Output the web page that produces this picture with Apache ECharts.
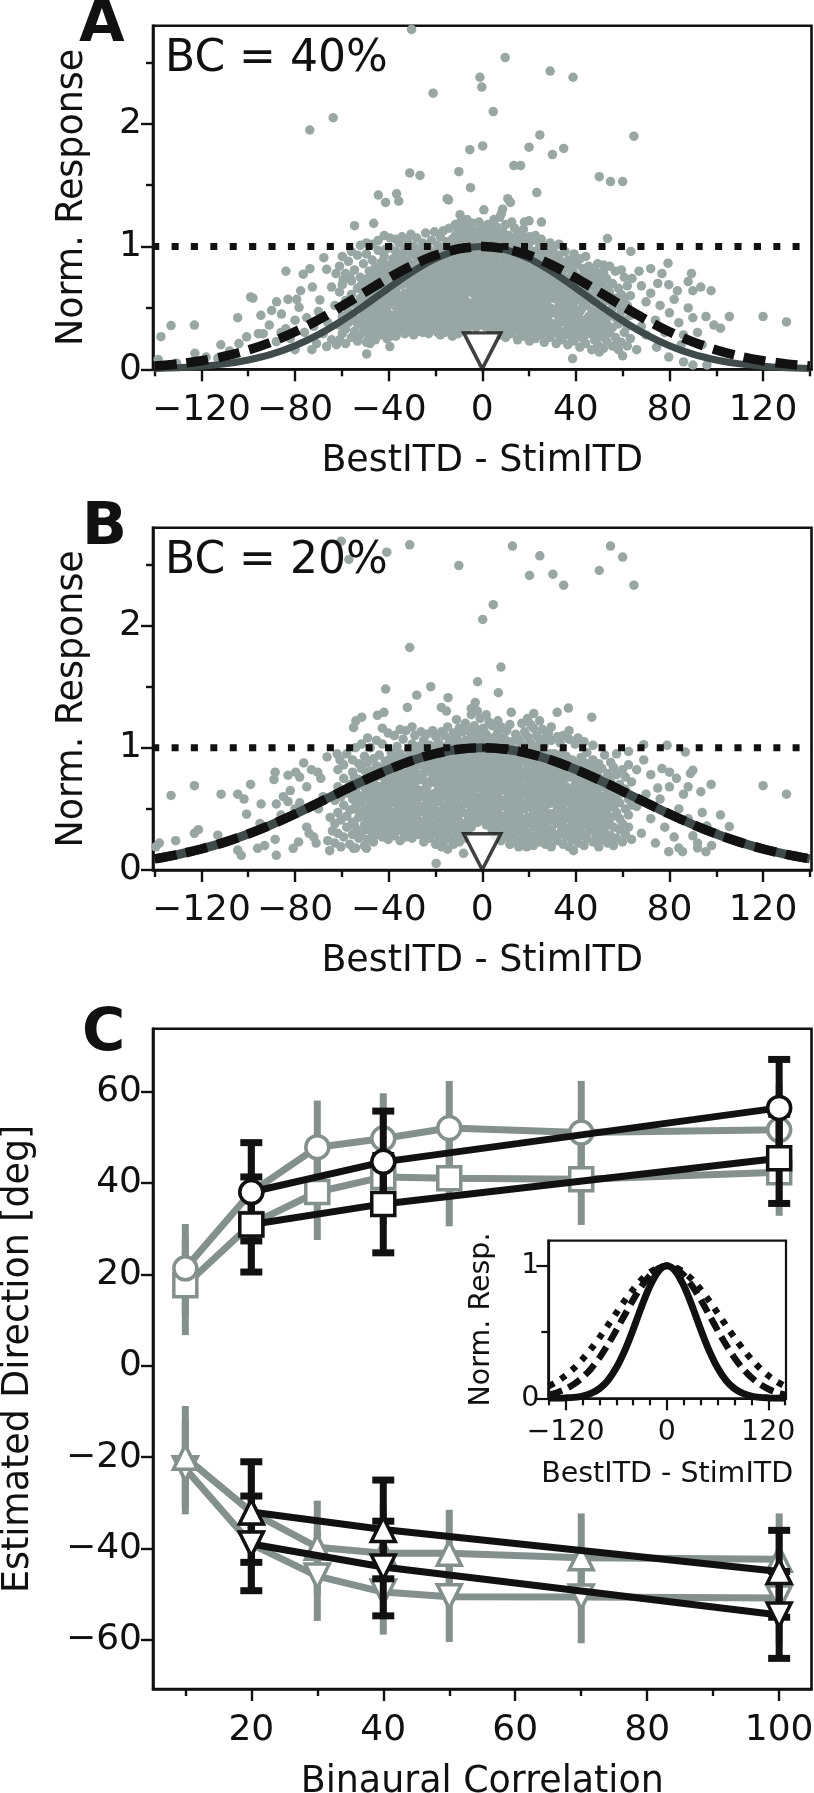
<!DOCTYPE html>
<html><head><meta charset="utf-8">
<style>html,body{margin:0;padding:0;background:#fff}#c{width:814px;height:1793px}</style>
<script src="https://cdn.jsdelivr.net/npm/echarts@6/dist/echarts.min.js"></script></head>
<body><div id="c"></div>
<script>
// ---------- data ----------
const itdMajor=[-120,-80,-40,0,40,80,120];
const itdMinor=[-140,-100,-60,-20,20,60,100,140];
const respMajor=[0,1,2];
const respMinor=[0.5,1.5,2.5];
const curveX=[-140,-130,-120,-110,-100,-90,-80,-70,-60,-50,-40,-30,-20,-10,0,10,20,30,40,50,60,70,80,90,100,110,120,130,140];
const solidA=[.006,.013,.024,.044,.076,.123,.192,.282,.395,.524,.662,.793,.902,.974,1,.974,.902,.793,.662,.524,.395,.282,.192,.123,.076,.044,.024,.013,.006];
const dashedA=[.027,.044,.07,.107,.157,.223,.306,.404,.514,.63,.744,.847,.929,.982,1,.982,.929,.847,.744,.63,.514,.404,.306,.223,.157,.107,.07,.044,.027];
const solidB=[.091,.127,.172,.228,.295,.372,.458,.55,.644,.737,.822,.896,.952,.988,1,.988,.952,.896,.822,.737,.644,.55,.458,.372,.295,.228,.172,.127,.091];
const dashedB=solidB;
const insetSolid=[0,.001,.003,.007,.017,.037,.073,.135,.23,.36,.52,.693,.849,.96,1,.96,.849,.693,.52,.36,.23,.135,.073,.037,.017,.007,.003,.001,0];
const insetDashed=dashedA;
const insetDotted=solidB;
const unityX=[-141,141];
const unityY=[1,1];
const stimMark=[[0,.15]];

const outliersA=[[-30.2,2.77],[9.8,2.54],[-1,2.38],[-.2,2.3],[29,2.43],[38.8,2.38],[-21,2.25],[4.7,2.1],[-63.7,2.05],[-73.7,1.95],[64.8,1.9],[24.6,1.91],[20,1.81],[34.8,1.8],[30,1.75],[.2,1.82],[-5.3,1.79],[13.5,1.66],[16.4,1.66],[-10,1.61],[-31,1.6],[-26.6,1.58],[50,1.57],[54.8,1.53],[60,1.53],[-5,1.48],[23.3,1.44],[-44.4,1.42],[-36.6,1.43],[-41.3,1.36],[-35.7,1.37],[-15,1.39],[-14.4,1.38],[10.9,1.39],[12,1.36],[.7,1.3],[8.7,1.305],[8.2,1.27],[-9.5,1.26],[-54.6,1.17],[-46.4,1.19],[25.3,1.2],[20,1.21],[18,1.2],[53.5,1.066],[63.5,.96],[79.4,.865],[76.8,.78],[89.4,.78],[88,.715],[93.4,.67],[97.8,.64],[90,.64],[83.4,.64],[79.7,.69],[105.6,.43],[120,.43],[130,.386],[95.6,.43],[99,.36],[101.8,.335],[-133,.356],[-123,.36],[-137.3,.266],[-141,.8],[-104.5,.42],[-99,.59],[-98,.58],[-94.6,.44],[-90,.48],[-87.9,.55],[-85.8,.45],[-83,.57],[-79.3,.57],[-78.3,.505],[-77.6,.64],[-72.6,.67],[-69.4,.565],[-64.4,.67],[-76.5,.775],[-73.6,.82],[-83.9,.8],[-66.5,.815],[-67.7,.91],[-62.5,.78],[-59.4,.73],[-56.5,.75],[-111.7,.2],[-122.8,.13],[-138.5,.08],[-130.6,.05],[-100.7,.265],[-104,.21],[-95.7,.29],[-93.6,.29],[-91,.36],[-88,.225],[-82,.25],[-80,.16],[-72.8,.16],[-70.8,.21],[-66.5,.185],[-64.4,.24],[-62.3,.2],[-49.4,.125],[-48,.21],[-39.5,.185],[-39.2,.27],[38.6,.087],[79.7,.1],[86,.06],[90,.035],[96,.035],[50,.14],[60,.11],[66,.16],[74.5,.18],[57,.185],[-113,.09],[-75,.42],[-72,.35],[-68,.29],[-76,.3],[-84,.33],[-70,.47],[-66,.38],[-63,.52],[-80,.4],[-86,.3],[-108,.15],[-118,.1],[65,.45],[68,.35],[70,.55],[72,.62],[74,.4],[76,.52],[78,.3],[80,.46],[82,.57],[84,.38],[86,.28],[88,.5],[90,.42],[92,.3],[94,.2],[85,.2],[70,.28],[75,.7],[68,.68],[64,.74],[72,.82],[67,.8]];
const cloudA=[
[-61,.24,.36,.51,.63,.84],[-59.8,.29,.43,.69,.92],[-58.4,.21,.33,.56,.78],[-57.2,.38,.47,.88],[-55.9,.26,.61,.72,.96],
[-54.6,.31,.42,.53,.81],[-53.3,.23,.37,.66,.93],[-52.1,.28,.49,.58,.75,1.01],[-50.8,.34,.44,.63,.86],[-49.5,.22,.39,.52,.7,.94,1.03],
[-48.3,.27,.46,.59,.8],[-47,.35,.41,.55,.67,.89,1.02],[-45.7,.24,.3,.5,.73,.83],[-44.5,.38,.45,.61,.77,.97,1.05],[-43.2,.28,.34,.54,.66,.87],
[-41.9,.42,.49,.58,.71,.92,1.09],[-40.7,.25,.36,.47,.63,.79,.85],[-39.4,.31,.53,.68,.75,.99,1.07],[-38.1,.4,.44,.6,.82,.9],[-36.9,.27,.35,.51,.65,.72,.96,1.06],
[-35.6,.32,.46,.57,.78,.86,1.03],[-34.3,.39,.54,.69,.93,1.08],[-33.1,.29,.43,.62,.74,.83,.98],[-31.8,.36,.48,.56,.7,.88,1.05],[-30.5,.33,.41,.59,.65,.8,.94,1.1],
[-29.3,.28,.45,.52,.73,.85,1],[-28,.37,.5,.61,.76,.91,1.07],[-26.7,.31,.42,.55,.67,.82,.97],[-25.5,.3,.39,.47,.63,.72,.87,1.03],[-24.2,.35,.53,.6,.78,.93,1.11],
[-22.9,.29,.44,.57,.69,.84,.98],[-21.7,.33,.41,.51,.66,.75,.89,1.05],[-20.4,.38,.48,.62,.8,.95,1.12],[-19.1,.3,.43,.56,.71,.86,1.01],[-17.9,.28,.36,.52,.64,.77,.9,1.08],
[-16.6,.34,.47,.59,.73,.82,.96,1.13],[-15.3,.4,.5,.67,.79,.92,1.04],[-14.1,.31,.44,.55,.7,.85,.99,1.15],[-12.8,.27,.37,.53,.63,.76,.88,1.06],[-11.5,.35,.46,.6,.74,.83,.94,1.09,1.18],
[-10.3,.29,.42,.57,.68,.81,.97,1.13],[-9,.33,.51,.65,.78,.9,1.02,1.21],[-7.7,.38,.47,.6,.72,.86,.99,1.1,1.17],[-6.5,.31,.44,.55,.69,.83,.93,1.06,1.22],[-5.2,.36,.5,.63,.76,.89,1.03,1.14],
[-3.9,.41,.54,.67,.8,.91,1.08,1.19],[-2.7,.34,.46,.59,.73,.85,.97,1.12],[-1.4,.39,.52,.64,.77,.94,1.05,1.2],[-.1,.43,.56,.7,.82,.9,1.01,1.16],[1.2,.35,.48,.61,.74,.87,.98,1.11],
[2.4,.4,.53,.66,.79,.93,1.07,1.18],[3.7,.32,.45,.58,.71,.84,.96,1.03,1.14],[5,.37,.49,.62,.76,.88,1.09,1.22],[6.2,.34,.51,.65,.8,.92,1.01,1.16],[7.5,.28,.43,.56,.69,.83,.95,1.06,1.24],
[8.8,.31,.47,.6,.73,.86,.99,1.12],[10,.26,.39,.52,.66,.78,.91,1.03,1.18],[11.3,.33,.45,.57,.7,.84,.97,1.09],[12.6,.29,.41,.55,.67,.81,.94,1.05,1.2],[13.8,.36,.49,.62,.75,.88,1.01,1.15],
[15.1,.24,.34,.46,.59,.72,.85,.98,1.1],[16.4,.3,.42,.53,.68,.79,.92,1.04],[17.6,.27,.38,.5,.63,.76,.87,1.07,1.14],[18.9,.33,.44,.57,.7,.83,.96,1.02],[20.2,.23,.35,.48,.61,.74,.9,1.08],
[21.4,.29,.41,.54,.66,.8,.93,1.05],[22.7,.25,.37,.51,.64,.77,.88,1.09],[24,.32,.45,.59,.71,.84,.97],[25.2,.28,.4,.52,.68,.79,.91,1.06],[26.5,.22,.35,.47,.62,.75,.86,1],
[27.8,.3,.43,.56,.69,.82,.95],[29,.26,.38,.5,.65,.77,.88,1.03],[30.3,.33,.46,.58,.72,.84,.98],[31.6,.21,.36,.49,.63,.74,.9],[32.8,.28,.41,.54,.67,.8,.93,1.02],
[34.1,.24,.39,.52,.6,.76,.87],[35.4,.31,.44,.57,.7,.83,.96],[36.6,.2,.35,.48,.62,.74,.89],[37.9,.27,.42,.55,.68,.81],[39.2,.23,.37,.5,.64,.78,.94],
[40.4,.3,.45,.58,.71,.85],[41.7,.18,.33,.47,.61,.75,.9],[43,.25,.4,.54,.66,.82],[44.2,.21,.36,.52,.63,.77,.92],[45.5,.29,.43,.57,.7,.84],
[46.8,.16,.34,.48,.6,.76],[48,.24,.39,.55,.67,.81],[49.3,.2,.31,.46,.62,.72,.86],[50.6,.27,.41,.53,.69],[51.8,.17,.35,.49,.6,.79,.85],
[53.1,.23,.38,.56,.74],[54.4,.3,.44,.63,.84],[55.6,.19,.34,.5,.7],[56.9,.26,.42,.58,.8],[58.2,.16,.37,.53,.66],
[59.4,.22,.47,.61,.81],[60.7,.3,.4,.57,.75],[62,.19,.35,.52,.68],[63.3,.25,.44,.6]
];
const cloudA2=[
[-43.9,.39,.52,.69,.81],[-41.2,.33,.44,.55,.76,.98],[-38.7,.36,.57,.71,.86],[-36.2,.43,.6,.69,.81,.93],[-33.7,.35,.48,.58,.78,.88],[-31.2,.42,.52,.63,.76,.84,.97],
[-28.7,.34,.41,.56,.69,.8,.95],[-26.1,.36,.49,.61,.72,.78,.92],[-23.6,.31,.43,.5,.66,.74,.83,.97],[-21.1,.37,.47,.58,.62,.71,.82,.94],[-18.5,.33,.39,.47,.6,.68,.8,.95],[-16,.3,.42,.53,.63,.77,.87,1],
[-13.5,.34,.41,.49,.58,.67,.73,.8,.93,1.03],[-10.9,.36,.45,.52,.63,.72,.87,.92,1.05],[-8.4,.39,.44,.56,.61,.7,.84,.96,1.07],[-5.9,.4,.47,.53,.66,.73,.79,.95,1.08],[-3.3,.37,.43,.5,.61,.7,.76,.86,.99,1.05],[-.8,.36,.47,.6,.67,.74,.87,.97,1.09],
[1.8,.42,.51,.57,.68,.78,.84,.92,1.04],[4.3,.41,.52,.64,.69,.8,.91,1],[6.9,.39,.46,.58,.72,.78,.86,.97,1.1],[9.4,.36,.43,.54,.63,.7,.8,.93,1.06],[12,.37,.49,.6,.73,.77,.9,.99],[14.5,.33,.4,.52,.64,.7,.82,.94,1.07],
[17,.35,.44,.58,.66,.73,.84,.96],[19.6,.29,.39,.5,.63,.76,.8,.92,1],[22.1,.31,.43,.47,.57,.7,.84,.96],[24.6,.36,.49,.55,.65,.74,.88,1.01],[27.2,.33,.41,.52,.59,.72,.8,.93],[29.7,.3,.37,.46,.6,.69,.82,.91],
[32.2,.34,.45,.57,.71,.77,.86],[34.8,.28,.42,.48,.65,.73,.81],[37.3,.31,.38,.53,.6,.72,.84],[39.8,.33,.44,.56,.68,.75,.88],[42.4,.27,.39,.49,.6,.73],[44.9,.32,.41,.55,.67,.79],
[-46.4,.32,.43,.62,.78],[-48.9,.3,.5,.64,.74],[-51.5,.36,.41,.55,.69],[47.4,.3,.44,.58,.7],[50,.34,.49,.6,.78],[52.5,.28,.43,.66,.73]
];
const outliersB=[[-60.3,2.69],[-57,2.54],[-40.8,2.6],[-31,2.66],[-10,2.49],[12.9,2.65],[24.6,2.57],[20.2,2.41],[30.2,2.42],[34.8,2.33],[50,2.45],[54.8,2.65],[60,2.56],[64.8,2.33],[4.7,2.17],[.2,2.05],[-31,1.82],[8,1.66],[-2,1.54],[6.9,1.45],[-41.3,1.48],[-22,1.5],[-28,1.43],[-14.6,1.41],[-32,1.33],[-42,1.29],[-44.8,1.265],[-17.5,1.33],[-15.3,1.3],[-3,1.37],[-4.7,1.32],[36.8,1.325],[32,1.29],[46.8,1.25],[12.4,1.29],[22,1.28],[-54,1.22],[-55,1.165],[-51.5,1.25],[-123,.69],[-133,.61],[-111.6,.62],[-104.5,.62],[-101.8,.58],[-99,.7],[-100.7,.457],[-94.5,.54],[-88.5,.8],[-89,.74],[-83,.775],[-79.7,.8],[-76.3,.876],[-78,.76],[-73,.82],[-70.3,.8],[-66.3,.925],[-62,.95],[-60.8,.9],[-75,.68],[-88,.54],[-85,.6],[-83,.56],[-131,.24],[-138,.22],[-139.5,.19],[-113,.285],[-123,.3],[-121.3,.33],[-104.5,.163],[-103,.12],[-96,.177],[-93,.2],[-88.5,.25],[-88,.12],[-80.8,.177],[-78.5,.23],[-65.2,.158],[-55,.177],[-49.5,.177],[-19.7,.054],[-8,.136],[120,.69],[130,.62],[97.8,.7],[93.4,.64],[86.8,.965],[79,1.02],[69,1.025],[101.8,.45],[105.6,.355],[95.6,.15],[85.6,.15],[79.7,.15],[39,.158],[19,.19],[89,.79],[90,.816],[76.8,.83],[80,.8],[-141,1.06],[-95,.38],[-86,.45],[-80,.5],[-75,.35],[-72,.27],[-70,.5],[-68,.6],[-66,.24],[-64,.32],[-74,.3],[-71,.22],[-65,.43],[-69,.75],[-78,.55],[-82,.65],[66,.52],[68,.3],[70,.62],[72,.42],[74,.22],[76,.58],[78,.35],[80,.68],[82,.27],[84,.5],[86,.62],[88,.42],[90,.28],[92,.22],[94,.47],[96,.36],[98,.2],[100,.3],[83,.75],[72,.78],[75,.67],[66,.82],[69,.9],[88,.68],[84,.18],[92,.18]];
const cloudB=[
[-63,.22,.38,.57],[-61.7,.3,.47,.68,.82],[-60.4,.19,.41,.6],[-59.2,.27,.53,.75,.86],[-57.9,.35,.44,.63,.95],
[-56.6,.21,.49,.7],[-55.4,.29,.39,.58,.8,.9],[-54.1,.18,.34,.52,.66,1],[-52.8,.26,.43,.61,.74,.87],[-51.6,.31,.47,.56,.83,1.03],
[-50.3,.2,.37,.5,.68,.93],[-49,.25,.41,.59,.76,.88,1.08],[-47.8,.33,.45,.54,.64,.81,1],[-46.5,.23,.38,.52,.72,.91],[-45.2,.29,.42,.6,.67,.85,1.06],
[-44,.35,.48,.57,.77,.94],[-42.7,.27,.4,.53,.65,.83,1.03,1.16],[-41.4,.31,.44,.61,.74,.89],[-40.2,.25,.37,.5,.69,.8,1.12],[-38.9,.33,.46,.58,.72,.86,.96],
[-37.6,.28,.41,.55,.63,.78,.92,1.1],[-36.4,.36,.49,.6,.75,.84,1.01],[-35.1,.24,.39,.52,.67,.81,.95,1.15],[-33.8,.31,.44,.57,.7,.87,1.07],[-32.6,.27,.42,.54,.64,.79,.91,1.14],
[-31.3,.34,.47,.59,.73,.85,.98],[-30,.26,.38,.51,.66,.78,.9,1.03,1.17],[-28.8,.32,.45,.56,.69,.83,.94,1.1],[-27.5,.29,.41,.53,.62,.76,.88,1.01],[-26.2,.35,.48,.6,.74,.86,.97,1.13],
[-25,.23,.37,.5,.65,.79,.91,1.06],[-23.7,.3,.43,.55,.68,.82,.95,1.11],[-22.4,.26,.4,.52,.71,.84,.93,1.02],[-21.2,.33,.46,.58,.75,.88,.99,1.14],[-19.9,.21,.36,.49,.63,.77,.9,1.09],
[-18.6,.27,.42,.56,.67,.8,.92,1.04],[-17.4,.19,.34,.47,.61,.73,.86,.98,1.13],[-16.1,.24,.41,.53,.69,.82,.94,1.1],[-14.8,.17,.3,.45,.59,.75,.87,1.02,1.17],[-13.6,.25,.38,.5,.64,.78,.91,1.06],
[-12.3,.21,.35,.48,.62,.72,.85,.97,1.12],[-11,.29,.43,.57,.7,.83,.95,1.08,1.23],[-9.8,.23,.4,.52,.66,.79,.92,1.03,1.16],[-8.5,.33,.47,.6,.74,.88,.99,1.13],[-7.2,.26,.37,.54,.68,.81,.93,1.06,1.2],
[-5.9,.41,.56,.63,.77,.9,1.01,1.14],[-4.7,.35,.49,.65,.8,.86,.97,1.09,1.27],[-3.4,.44,.58,.71,.84,.95,1.04,1.18],[-2.1,.39,.52,.67,.78,.91,1.02,1.13,1.3],[-.9,.46,.6,.74,.87,.99,1.08,1.24],
[.4,.42,.55,.69,.82,.93,1.05,1.16],[1.7,.37,.5,.63,.76,.89,1,1.11,1.27],[2.9,.45,.58,.72,.85,.97,1.07,1.21],[4.2,.33,.47,.6,.73,.86,.94,1.03,1.18],[5.5,.28,.41,.54,.68,.8,.92,1.09],
[6.7,.36,.49,.62,.75,.88,1,1.13,1.22],[8,.24,.39,.53,.66,.79,.9,1.04,1.17],[9.3,.31,.44,.57,.7,.83,.96,1.08],[10.5,.27,.37,.51,.64,.77,.91,1.02,1.14],[11.8,.21,.34,.48,.61,.74,.87,.99,1.19],
[13.1,.29,.42,.56,.69,.82,.94,1.05],[14.3,.24,.38,.52,.65,.78,.9,1.11],[15.6,.19,.33,.46,.6,.73,.86,.98,1.07],[16.9,.27,.4,.54,.67,.8,.93,1.03,1.2],[18.1,.22,.36,.5,.63,.76,.89,1.13],
[19.4,.3,.43,.57,.7,.83,.96,1.09,1.24],[20.7,.25,.39,.52,.66,.79,.92,1.04,1.19],[21.9,.2,.35,.48,.61,.74,.87,1.01,1.16],[23.2,.28,.42,.55,.68,.81,.94,1.1],[24.5,.23,.37,.51,.64,.77,.9,1.07,1.22],
[25.7,.31,.44,.58,.71,.84,.97,1.15],[27,.21,.34,.47,.6,.73,.86,1.08],[28.3,.26,.4,.54,.67,.8,.92,1.12],[29.5,.19,.33,.46,.62,.75,.88,1.06,1.17],[30.8,.29,.43,.56,.69,.82,.95],
[32.1,.24,.38,.5,.64,.77,.9,1.09],[33.3,.3,.41,.53,.66,.79,.87,1.04],[34.6,.21,.36,.49,.6,.74,.85,1.1],[35.9,.27,.42,.55,.68,.81,.93],[37.1,.19,.34,.47,.61,.76,.88,1.07,1.14],
[38.4,.25,.39,.52,.65,.78,.9],[39.7,.31,.44,.57,.7,.83,1.03],[40.9,.22,.35,.48,.63,.75,.86,1.08],[42.2,.28,.41,.54,.67,.8,.92],[43.5,.2,.37,.5,.6,.73,.88,1.05],
[44.7,.26,.4,.55,.69,.83,.96],[46,.33,.46,.58,.72,.85],[47.3,.23,.38,.52,.64,.77,.9,1.02],[48.5,.29,.43,.56,.68,.81],[49.8,.19,.35,.49,.61,.75,.87],
[51.1,.25,.41,.54,.7,.83],[52.3,.31,.45,.6,.74,.94],[53.6,.22,.37,.5,.65,.79],[54.9,.28,.43,.57,.72,.88],[56.1,.2,.35,.52,.67,.84],
[57.4,.26,.47,.6,.78,.95],[58.7,.33,.42,.55,.7],[59.9,.23,.38,.63,.82],[61.2,.29,.5,.66,.76],[62.5,.35,.45,.58,.86,.97],[63.8,.25,.53,.72]
];
const cloudB2=[
[-49.6,.33,.47,.63,.8],[-46.9,.3,.46,.58,.7,.79],[-44.3,.41,.52,.68,.84],[-41.8,.34,.5,.58,.7,.82],[-39.3,.3,.42,.55,.64,.77,.91],[-36.8,.32,.44,.56,.69,.8,.9],
[-34.2,.34,.47,.6,.74,.88],[-31.7,.3,.4,.52,.67,.77,.92],[-29.2,.35,.44,.6,.71,.81,.96],[-26.6,.29,.38,.52,.65,.78,.91],[-24.1,.34,.46,.6,.72,.86,1],[-21.6,.3,.41,.54,.62,.8,.93],
[-19,.32,.45,.58,.7,.84,.96,1.03],[-16.5,.29,.36,.5,.62,.76,.88,1],[-14,.34,.42,.55,.68,.8,.93,1.05],[-11.5,.39,.52,.66,.77,.89,1.01],[-9,.28,.36,.48,.62,.75,.86,.97],[-6.5,.31,.46,.59,.71,.83,.95,1.05],
[-4,.39,.53,.61,.74,.88,.99,1.08],[-1.4,.43,.57,.71,.83,.96,1.05],[1.1,.4,.53,.66,.79,.92,1.03],[3.6,.39,.52,.65,.78,.91,1.01],[6.1,.32,.44,.57,.7,.83,.97,1.06],[8.7,.29,.42,.55,.71,.84,.93],
[11.2,.31,.4,.54,.67,.8,.92,1.05],[13.7,.33,.46,.59,.72,.85,.97],[16.2,.23,.37,.5,.63,.75,.88,1],[18.8,.3,.42,.55,.68,.8,.93],[21.3,.27,.41,.5,.64,.76,.89,.98],[23.8,.34,.46,.59,.72,.85,1.01],
[26.4,.27,.38,.52,.65,.78,.9,1.02],[28.9,.31,.44,.57,.7,.83,.95],[31.4,.26,.4,.54,.61,.75,.89],[34,.33,.46,.58,.71,.83,.95],[36.5,.3,.43,.56,.66,.8,.9],[39,.27,.4,.54,.62,.76,.87],
[41.6,.33,.46,.6,.72,.84],[44.1,.29,.43,.52,.65,.79],[46.6,.36,.5,.62,.75,.88],[49.2,.27,.4,.54,.66,.78],[51.7,.33,.46,.58,.68],[54.2,.25,.4,.53,.62,.76],[-52.2,.29,.45,.59,.71],[-54.7,.37,.5,.63,.76]
];

const corrMajor=[20,40,60,80,100];
const corrMinor=[10,30,50,70,90];
const dirMajor=[-60,-40,-20,0,20,40,60];
const grayX=[10,20,30,40,50,70,100];
const blackX=[20,40,100];
const grayCircle=[21.3,38,47.8,49.7,52,51,51.6];
const grayCircleLo=[11,28,38,40,42,41,41.6];
const grayCircleHi=[31,48,58,59.6,62.3,62.3,61.6];
const graySquare=[17.6,31,38,41.3,41,40.8,42.3];
const graySquareLo=[6.7,20.3,27.5,31,30.5,30.8,32.8];
const graySquareHi=[28,41,48.5,51.5,51.5,51,52];
const grayUp=[-20,-32,-39.7,-41,-41,-42,-42.3];
const grayUpLo=[-31,-43,-50,-51,-51,-52,-52.3];
const grayUpHi=[-8.8,-21,-29.5,-30.5,-31.5,-32.3,-32.3];
const grayDown=[-22.5,-39,-46,-49.5,-50.5,-50.6,-50.8];
const grayDownLo=[-32.5,-49,-55.8,-58.8,-60.4,-60.7,-60.8];
const grayDownHi=[-12,-28.5,-36,-39.5,-40.5,-40.6,-40.8];
const blackCircle=[38,44.6,56.4];
const blackCircleLo=[27.3,34,46];
const blackCircleHi=[48.8,55.7,67];
const blackSquare=[30.9,35.4,45.4];
const blackSquareLo=[20.5,24.7,35.5];
const blackSquareHi=[41.3,46,55];
const blackUp=[-32,-35.8,-45];
const blackUpLo=[-43,-46.6,-55];
const blackUpHi=[-21,-25,-36];
const blackDown=[-39,-44,-54.5];
const blackDownLo=[-49.2,-54.7,-64];
const blackDownHi=[-28.5,-34,-45];

const insetMajor=[-120,0,120];
const insetMinor=[-140,-100,-80,-60,-40,-20,20,40,60,80,100,140];
const insetYMajor=[0,1];
const insetYMinor=[0.5];

// ---------- styles and helpers ----------
const FONT='DejaVu Sans', INK='#111', DOT='#98a6a4', GRAY='#84908e', DARK='#3f4a4a';
const fmt=v=>String(v).replace('-','\u2212');
const zipXY=(xs,ys)=>xs.map((x,i)=>[x,ys[i]]);
const cloudPts=(cloud,extra)=>extra.concat(cloud.flatMap(c=>c.slice(1).map(y=>[c[0],y])));
const xAxes=[],yAxes=[],grids=[],series=[];
function addPanel(o){
  const idx=grids.length;
  grids.push({show:true,left:o.box[0],top:o.box[1],width:o.box[2],height:o.box[3],borderColor:INK,borderWidth:o.bw,backgroundColor:'#fff',containLabel:false,outerBoundsMode:'none'});
  const line={show:true,onZero:false,lineStyle:{color:INK,width:o.bw}};
  xAxes.push({gridIndex:idx,type:'value',min:o.x[0],max:o.x[1],position:'bottom',axisLine:line,splitLine:{show:false},
    axisTick:{show:true,length:o.maj,customValues:o.xMaj,lineStyle:{color:INK,width:o.tw}},
    axisLabel:{show:true,customValues:o.xMaj,formatter:fmt,color:INK,fontFamily:FONT,fontSize:o.fs,margin:o.xMargin,hideOverlap:false,showMinLabel:true,showMaxLabel:true},
    name:o.xName,nameLocation:'middle',nameGap:o.xGap,nameTextStyle:{color:INK,fontFamily:FONT,fontSize:o.nfs}});
  xAxes.push({gridIndex:idx,type:'value',min:o.x[0],max:o.x[1],position:'bottom',axisLine:{show:false,onZero:false},splitLine:{show:false},
    axisTick:{show:true,length:o.min,customValues:o.xMin,lineStyle:{color:INK,width:o.tw}},axisLabel:{show:false}});
  yAxes.push({gridIndex:idx,type:'value',min:o.y[0],max:o.y[1],position:'left',axisLine:line,splitLine:{show:false},
    axisTick:{show:true,length:o.maj,customValues:o.yMaj,lineStyle:{color:INK,width:o.tw}},
    axisLabel:{show:true,customValues:o.yMaj,formatter:fmt,color:INK,fontFamily:FONT,fontSize:o.fs,margin:o.yMargin,hideOverlap:false,showMinLabel:true,showMaxLabel:true},
    name:o.yName,nameLocation:'middle',nameGap:o.yGap,nameTextStyle:{color:INK,fontFamily:FONT,fontSize:o.nfs}});
  yAxes.push({gridIndex:idx,type:'value',min:o.y[0],max:o.y[1],position:'left',axisLine:{show:false,onZero:false},splitLine:{show:false},
    axisTick:{show:o.yMin.length>0,length:o.min,customValues:o.yMin,lineStyle:{color:INK,width:o.tw}},axisLabel:{show:false}});
  return idx*2;
}
function lineS(ax,data,color,width,dash,z){
  series.push({type:'line',xAxisIndex:ax,yAxisIndex:ax,data,smooth:0.3,showSymbol:false,symbol:'none',silent:true,z:z||3,clip:true,
    lineStyle:{color,width,type:dash||'solid',cap:'butt',join:'round'}});
}
function errS(ax,xs,lo,hi,color,cap,z){
  series.push({type:'custom',xAxisIndex:ax,yAxisIndex:ax,z,silent:true,clip:false,encode:{x:0,y:[1,2]},
    data:xs.map((x,i)=>[x,lo[i],hi[i]]),
    renderItem:(p,api)=>{
      const a=api.coord([api.value(0),api.value(1)]),b=api.coord([api.value(0),api.value(2)]);
      const st={stroke:color,lineWidth:7,fill:null};
      const kids=[{type:'line',shape:{x1:a[0],y1:a[1],x2:b[0],y2:b[1]},style:st}];
      if(cap){kids.push({type:'line',shape:{x1:a[0]-cap,y1:a[1],x2:a[0]+cap,y2:a[1]},style:st});
              kids.push({type:'line',shape:{x1:b[0]-cap,y1:b[1],x2:b[0]+cap,y2:b[1]},style:st});}
      return {type:'group',children:kids};
    }});
}
function markS(ax,xs,ys,color,symbol,size,rot,z){
  series.push({type:'line',xAxisIndex:ax,yAxisIndex:ax,z,silent:true,clip:false,data:zipXY(xs,ys),showSymbol:true,showAllSymbol:true,
    symbol,symbolSize:size,symbolRotate:rot||0,lineStyle:{color,width:7},
    itemStyle:{color:'#fff',borderColor:color,borderWidth:3.5,opacity:1}});
}

// ---------- panels A and B ----------
function topPanel(box,solid,dashed,solidColor,solidW,pts){
  const ax=addPanel({box,bw:2.6,tw:2.4,maj:12,min:7,x:[-140.7,140.7],y:[0,2.8],xMaj:itdMajor,xMin:itdMinor,yMaj:respMajor,yMin:respMinor,
    fs:36,nfs:36.4,xMargin:23,yMargin:11,xName:'BestITD - StimITD',xGap:74,yName:'Norm. Response',yGap:62});
  series.push({type:'scatter',xAxisIndex:ax,yAxisIndex:ax,data:pts,symbolSize:9.5,silent:true,z:2,clip:true,itemStyle:{color:DOT,opacity:1}});
  lineS(ax,zipXY(curveX,solid),solidColor,solidW,'solid',3);
  lineS(ax,zipXY(curveX,dashed),INK,9.5,[22,10],4);
  lineS(ax,zipXY(unityX,unityY),INK,7,[7,12.4],5);
  series.push({type:'scatter',xAxisIndex:ax,yAxisIndex:ax,data:stimMark,symbol:'triangle',symbolRotate:180,symbolSize:[37,36],silent:true,z:6,clip:false,
    itemStyle:{color:'#fff',borderColor:INK,borderWidth:3.5}});
}
topPanel([153,25.7,658.5,343.6],solidA,dashedA,DARK,7,cloudPts(cloudA.concat(cloudA2),outliersA));
topPanel([153,527.7,658.5,342.3],solidB,dashedB,DARK,9,cloudPts(cloudB.concat(cloudB2),outliersB));

// ---------- panel C ----------
const axC=addPanel({box:[153,1028.8,658.5,660.2],bw:2.6,tw:2.4,maj:12,min:7,x:[5.1,104.9],y:[-70.7,73.7],xMaj:corrMajor,xMin:corrMinor,yMaj:dirMajor,yMin:[],
  fs:36,nfs:36.4,xMargin:24,yMargin:11,xName:'Binaural Correlation',xGap:76,yName:'Estimated Direction [deg]',yGap:116});
errS(axC,grayX,grayCircleLo,grayCircleHi,GRAY,0,2);
errS(axC,grayX,graySquareLo,graySquareHi,GRAY,0,2);
errS(axC,grayX,grayUpLo,grayUpHi,GRAY,0,2);
errS(axC,grayX,grayDownLo,grayDownHi,GRAY,0,2);
markS(axC,grayX,graySquare,GRAY,'rect',23,0,3);
markS(axC,grayX,grayCircle,GRAY,'circle',23,0,3);
markS(axC,grayX,grayDown,GRAY,'triangle',24,180,3);
markS(axC,grayX,grayUp,GRAY,'triangle',24,0,3);
errS(axC,blackX,blackCircleLo,blackCircleHi,INK,11,4);
errS(axC,blackX,blackSquareLo,blackSquareHi,INK,11,4);
errS(axC,blackX,blackUpLo,blackUpHi,INK,11,4);
errS(axC,blackX,blackDownLo,blackDownHi,INK,11,4);
markS(axC,blackX,blackCircle,INK,'circle',23,0,5);
markS(axC,blackX,blackSquare,INK,'rect',23,0,5);
markS(axC,blackX,blackUp,INK,'triangle',24,0,5);
markS(axC,blackX,blackDown,INK,'triangle',24,180,5);

// ---------- inset ----------
const axI=addPanel({box:[548.3,1240.7,237.7,157.6],bw:2.2,tw:2.2,maj:12,min:7,x:[-140.5,141],y:[0,1.19],xMaj:insetMajor,xMin:insetMinor,yMaj:insetYMajor,yMin:insetYMinor,
  fs:28.5,nfs:28.5,xMargin:20,yMargin:9,xName:'BestITD - StimITD',xGap:62,yName:'Norm. Resp.',yGap:52});
lineS(axI,zipXY(curveX,insetSolid),INK,7,'solid',3);
lineS(axI,zipXY(curveX,insetDashed),INK,6.5,[14,7],3);
lineS(axI,zipXY(curveX,insetDotted),INK,6.5,[6,8],3);

// ---------- text ----------
const txt=(text,x,y,size,weight)=>({type:'text',x,y,z:50,style:{text,fill:INK,font:(weight||'normal')+' '+size+'px "DejaVu Sans"',textVerticalAlign:'bottom',verticalAlign:'bottom'}});
const chart=echarts.init(document.getElementById('c'),null,{renderer:'canvas'});
chart.setOption({animation:false,backgroundColor:'#fff',grid:grids,xAxis:xAxes,yAxis:yAxes,series,
  graphic:[txt('A',79,55,59,'bold'),txt('B',82,558,59,'bold'),txt('C',82,1064,59,'bold'),txt('BC = 40%',165,82,44),txt('BC = 20%',165,584,44)]});
</script></body></html>
